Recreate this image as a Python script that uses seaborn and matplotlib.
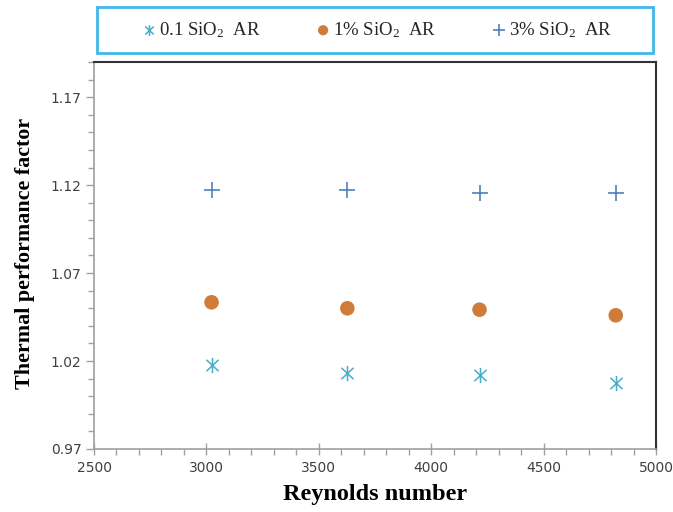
import numpy as np
import pandas as pd
import matplotlib
matplotlib.use("Agg")
import matplotlib.pyplot as plt
from matplotlib.path import Path
from matplotlib.patches import Rectangle
from matplotlib.ticker import MultipleLocator, FixedLocator
import seaborn as sns

# ---- data ----
reynolds = [3023, 3627, 4215, 4821]
tpf_01 = [1.0177, 1.0130, 1.0120, 1.0073]
tpf_1 = [1.0534, 1.0500, 1.0492, 1.0460]
tpf_3 = [1.1173, 1.1173, 1.1155, 1.1155]
series_labels = ["0.1 SiO$_2$  AR", "1% SiO$_2$  AR", "3% SiO$_2$  AR"]
yticks = [0.97, 1.02, 1.07, 1.12, 1.17]
xticks = [2500, 3000, 3500, 4000, 4500, 5000]

sns.set_theme(style="white")
plt.rcParams["mathtext.fontset"] = "custom"
plt.rcParams["mathtext.rm"] = "Liberation Serif"
plt.rcParams["mathtext.default"] = "rm"

# asterisk marker: X plus vertical bar
star = Path([(0, -1), (0, 1), (-0.8, -0.75), (0.8, 0.75), (-0.8, 0.75), (0.8, -0.75)],
            [Path.MOVETO, Path.LINETO, Path.MOVETO, Path.LINETO, Path.MOVETO, Path.LINETO])

colors = ["#4bacc6", "#d07b38", "#4f81bd"]
fig = plt.figure(figsize=(6.73, 5.12), dpi=100)
ax = fig.add_axes([94 / 673, 1 - 449 / 512, (656 - 94) / 673, (449 - 62) / 512])

series_vals = [tpf_01, tpf_1, tpf_3]
markers = [star, "o", "+"]
sizes = [120, 110, 130]
lws = [1.1, 0, 1.2]
for lab, vals, c, m, s, lw in zip(series_labels, series_vals, colors, markers, sizes, lws):
    d = pd.DataFrame({"Re": reynolds, "TPF": vals})
    if lw == 0:
        sns.scatterplot(data=d, x="Re", y="TPF", marker=m, s=s, linewidth=0,
                        color=c, edgecolor="none", ax=ax, label=lab)
    else:
        sns.scatterplot(data=d, x="Re", y="TPF", marker=m, s=s, linewidth=lw,
                        color=c, edgecolor=c, ax=ax, label=lab)

ax.set_xlim(2500, 5000)
ax.set_ylim(0.97, 1.19)
ax.xaxis.set_major_locator(FixedLocator(xticks))
ax.xaxis.set_minor_locator(MultipleLocator(100))
ax.yaxis.set_major_locator(FixedLocator(yticks))
ax.yaxis.set_minor_locator(MultipleLocator(0.01))
ax.set_yticklabels([f"{v:.2f}" for v in yticks])
ax.tick_params(axis="x", which="major", direction="inout", length=9, width=1,
               color="#a0a0a0", labelsize=10, labelcolor="#404040", bottom=True, pad=4)
ax.tick_params(axis="y", which="major", direction="out", length=6, width=1,
               color="#a0a0a0", labelsize=10, labelcolor="#404040", left=True, pad=3)
ax.tick_params(axis="both", which="minor", direction="out", length=4, width=1,
               color="#a0a0a0", left=True, bottom=True)
for side in ["left", "bottom"]:
    ax.spines[side].set_color("#a0a0a0")
    ax.spines[side].set_linewidth(1.2)
for side in ["top", "right"]:
    ax.spines[side].set_color("#333333")
    ax.spines[side].set_linewidth(1.5)

ax.set_xlabel("Reynolds number", family="Liberation Serif", fontweight="bold", fontsize=17.5, color="black")
ax.set_ylabel("Thermal performance factor", family="Liberation Serif", fontweight="bold", fontsize=15.8, color="black")
ax.xaxis.set_label_coords(0.5, -(484 - 449) / 387, transform=ax.transAxes)
ax.yaxis.set_label_coords(-(94 - 35) / 562, 0.5 + 2 / 387, transform=ax.transAxes)

sns.move_legend(ax, "center", bbox_to_anchor=(377 / 673, 1 - 30 / 512),
                bbox_transform=fig.transFigure, ncol=3, frameon=False, title=None,
                prop={"family": "Liberation Serif", "size": 13.5}, handletextpad=0.15,
                handlelength=0.8, columnspacing=2.9, borderaxespad=0, markerscale=0.7)
fig.patches.append(Rectangle((97 / 673, 1 - 53 / 512), (653 - 97) / 673, 46 / 512,
                             transform=fig.transFigure, fill=False, edgecolor="#3fb8ea",
                             linewidth=2, figure=fig))

fig.savefig("out.png", dpi=100)
